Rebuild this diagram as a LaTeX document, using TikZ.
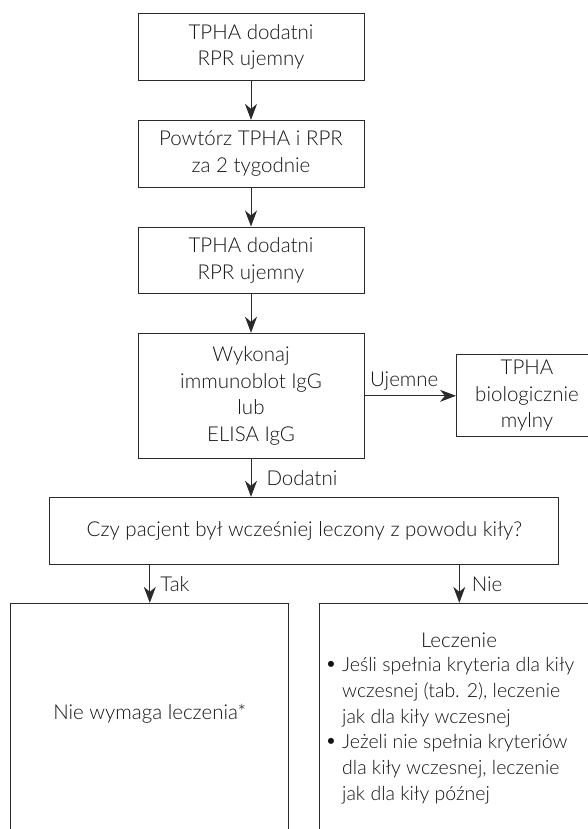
\documentclass[tikz,border=0pt]{standalone}
\usepackage{fontspec}
\setmainfont{Lato Light}
\usetikzlibrary{arrows.meta}
\definecolor{ink}{HTML}{2A2A2A}
\definecolor{tink}{HTML}{141414}
\begin{document}
\begin{tikzpicture}[x=1pt,y=-1pt,
  box/.style={draw=ink, line width=1pt},
  txt/.style={text=tink, align=center, font=\fontsize{20.5}{26.5}\selectfont, inner sep=0pt},
  itm/.style={txt, anchor=west, align=left, font=\fontsize{19.5}{26}\selectfont},
  arr/.style={draw=ink, line width=1pt, -{Stealth[length=16pt,width=12pt,inset=5pt]}},
  lbl/.style={txt, right, xshift=10pt}]
\useasboundingbox (0,0) rectangle (588,829);
\clip (0,0) rectangle (588,829);
\node[box, txt, minimum width=226pt, minimum height=66.6pt] (b1) at (251,47) {TPHA dodatni\\RPR ujemny};
\node[box, txt, minimum width=226pt, minimum height=66.6pt] (b2) at (251,153.7) {Powtórz TPHA i RPR\\za 2 tygodnie};
\node[box, txt, minimum width=226pt, minimum height=66.6pt] (b3) at (251,260.3) {TPHA dodatni\\RPR ujemny};
\node[box, txt, minimum width=226pt, minimum height=125pt] (b4) at (251,395.8) {Wykonaj\\immunoblot IgG\\lub\\ELISA IgG};
\node[box, txt, minimum width=141pt, minimum height=81.7pt] (tp) at (527,395.8) {TPHA\\biologicznie\\mylny};
\node[box, txt, minimum width=508.7pt, minimum height=67pt] (czy) at (304.3,530.8) {Czy pacjent był wcześniej leczony z powodu kiły?};
\node[box, minimum width=277.7pt, minimum height=256.7pt] (lb) at (149.8,731.7) {};
\node[box, minimum width=279pt, minimum height=256.7pt] (rb) at (459.3,731.7) {};
\node[txt] (nw) at (149.8,713.3) {Nie wymaga leczenia*};
\node[txt] (lec) at (459,640.5) {Leczenie};
\node[txt] (bul1) at (331,666) {\textbullet};
\node[itm] (it1) at (342,692) {Jeśli spełnia kryteria dla kiły\\wczesnej (tab. 2), leczenie\\jak dla kiły wczesnej};
\node[txt] (bul2) at (331,743.3) {\textbullet};
\node[itm] (it2) at (342,769) {Jeżeli nie spełnia kryteriów\\dla kiły wczesnej, leczenie\\jak dla kiły późnej};
\draw[arr] (b1) -- (b2);
\draw[arr] (b2) -- (b3);
\draw[arr] (b3) -- (b4);
\draw[arr] (b4.east) -- node[txt, pos=0, anchor=south west, xshift=5pt, yshift=5pt] (uj) {Ujemne} (tp.west);
\draw[arr] (b4.south) -- node[lbl, xshift=5pt] (dod) {Dodatni} (b4.south |- czy.north);
\draw[arr] (czy.south -| lb.north) -- node[lbl, xshift=0pt] (tak) {Tak} (lb.north);
\draw[arr] (czy.south -| rb.north) -- node[lbl, xshift=2pt] (nie) {Nie} (rb.north);
\end{tikzpicture}
\end{document}
